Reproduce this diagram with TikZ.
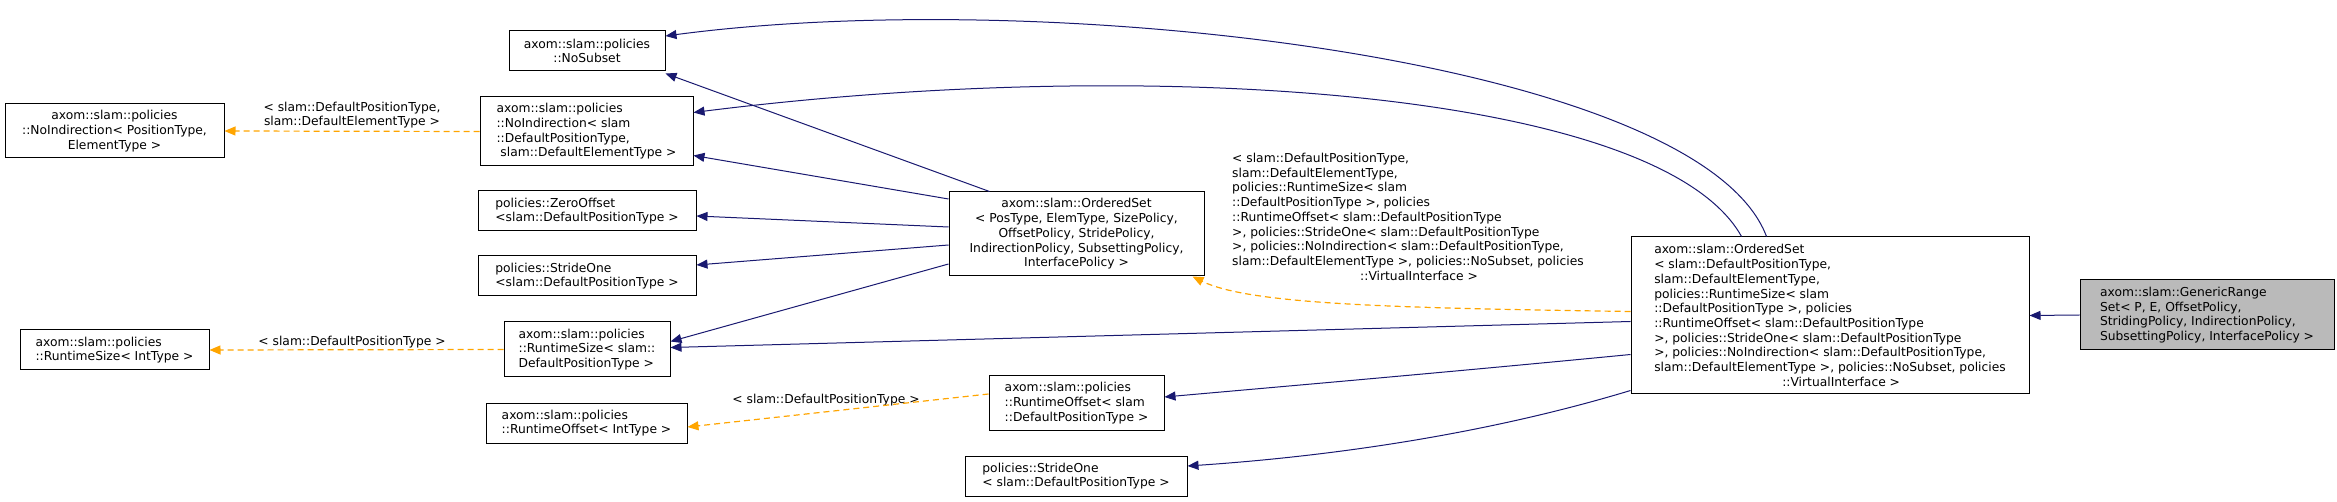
\documentclass[tikz,border=0pt]{standalone}
\usepackage{fontspec}
\setmainfont{DejaVu Sans}
\usetikzlibrary{arrows.meta}
\definecolor{navy}{HTML}{191970}
\definecolor{orng}{HTML}{FFA500}
\begin{document}
\begin{tikzpicture}[x=1pt,y=-1pt,
 box/.style={draw=black,line width=1pt,fill=white,inner sep=2pt,font=\fontsize{12.3}{14.7}\selectfont},
 lbl/.style={inner sep=0pt,font=\fontsize{12.3}{14.7}\selectfont},
 inh/.style={draw=navy,line width=1pt,-{Triangle[length=11pt,width=9pt,fill=navy]}},
 tpl/.style={draw=orng,line width=1.2pt,dash pattern=on 6pt off 4pt,-{Triangle[length=11pt,width=9pt,fill=orng]}}]
\useasboundingbox (0,0) rectangle (2337,502);
\node[box,minimum width=156pt,minimum height=40pt,align=center] (nosub) at (587,51) {axom::slam::policies\\::NoSubset};
\node[box,minimum width=213pt,minimum height=69pt,align=left] (noindS) at (586.5,131.5) {axom::slam::policies\\::NoIndirection< slam\\::DefaultPositionType,\\\ slam::DefaultElementType >};
\node[box,minimum width=219pt,minimum height=54pt,align=center] (noindP) at (114.5,131) {axom::slam::policies\\::NoIndirection< PositionType,\\ElementType >};
\node[box,minimum width=218pt,minimum height=40pt,align=left] (zero) at (587,211) {policies::ZeroOffset\\<slam::DefaultPositionType >};
\node[box,minimum width=218pt,minimum height=40pt,align=left] (strL) at (587,276) {policies::StrideOne\\<slam::DefaultPositionType >};
\node[box,minimum width=166pt,minimum height=55pt,align=left] (rsS) at (587,349.5) {axom::slam::policies\\::RuntimeSize< slam::\\DefaultPositionType >};
\node[box,minimum width=189pt,minimum height=40pt,align=left] (rsI) at (114.5,350) {axom::slam::policies\\::RuntimeSize< IntType >};
\node[box,minimum width=201pt,minimum height=40pt,align=left] (roI) at (586.5,423) {axom::slam::policies\\::RuntimeOffset< IntType >};
\node[box,minimum width=255pt,minimum height=84pt,align=center] (tmpl) at (1076.5,234) {axom::slam::OrderedSet\\< PosType, ElemType, SizePolicy,\\OffsetPolicy, StridePolicy,\\IndirectionPolicy, SubsettingPolicy,\\InterfacePolicy >};
\node[box,minimum width=175pt,minimum height=54pt,align=left] (roS) at (1076.5,403) {axom::slam::policies\\::RuntimeOffset< slam\\::DefaultPositionType >};
\node[box,minimum width=222pt,minimum height=40pt,align=left] (strR) at (1076,476) {policies::StrideOne\\< slam::DefaultPositionType >};
\node[box,minimum width=398pt,minimum height=157pt,align=left] (inst) at (1830,315.5) {axom::slam::OrderedSet\\< slam::DefaultPositionType,\\ slam::DefaultElementType,\\ policies::RuntimeSize< slam\\::DefaultPositionType >, policies\\::RuntimeOffset< slam::DefaultPositionType\\ >, policies::StrideOne< slam::DefaultPositionType\\ >, policies::NoIndirection< slam::DefaultPositionType,\\ slam::DefaultElementType >, policies::NoSubset, policies\\\hspace*{128pt}::VirtualInterface >};
\node[box,fill=black!27,minimum width=254pt,minimum height=70pt,align=left] (gen) at (2207,315) {axom::slam::GenericRange\\Set< P, E, OffsetPolicy,\\ StridingPolicy, IndirectionPolicy,\\ SubsettingPolicy, InterfacePolicy >};
% labels
\node[lbl,align=center] (l1) at (352,115) {< slam::DefaultPositionType,\\slam::DefaultElementType >};
\node[lbl] (l2) at (352,342) {< slam::DefaultPositionType >};
\node[lbl] (l3) at (826,400) {< slam::DefaultPositionType >};
\node[lbl,align=left,anchor=north west] (l4) at (1232,153) {< slam::DefaultPositionType,\\slam::DefaultElementType,\\policies::RuntimeSize< slam\\::DefaultPositionType >, policies\\::RuntimeOffset< slam::DefaultPositionType\\>, policies::StrideOne< slam::DefaultPositionType\\>, policies::NoIndirection< slam::DefaultPositionType,\\slam::DefaultElementType >, policies::NoSubset, policies\\\hspace*{128pt}::VirtualInterface >};
% template edges
\draw[tpl] (noindS.west) -- (noindP.east);
\draw[tpl] (rsS.west) -- (rsI.east);
\draw[tpl] ([yshift=9pt]roS.west) -- ([yshift=-4pt]roI.east);
\draw[tpl] ([yshift=4pt]inst.west) .. controls (1400,308) and (1250,305) .. ([xshift=-12pt]tmpl.south east);
% inheritance
\draw[inh] (gen.west) -- (inst.east);
\draw[inh] ([xshift=136pt]inst.north west) .. controls (1700,60) and (1050,-15) .. ([yshift=15pt]nosub.east);
\draw[inh] ([xshift=111pt]inst.north west) .. controls (1660,90) and (1150,55) .. ([yshift=19pt]noindS.east);
\draw[inh] ([yshift=-6pt]inst.west) -- ([yshift=2pt]rsS.east);
\draw[inh] ([yshift=-39pt]inst.west) .. controls (1450,372) and (1300,385) .. ([yshift=6pt]roS.east);
\draw[inh] ([yshift=-75pt]inst.west) .. controls (1500,430) and (1350,455) .. ([yshift=10pt]strR.east);
\draw[inh] ([xshift=41pt]tmpl.north west) -- ([yshift=-2pt]nosub.south east);
\draw[inh] ([yshift=35pt]tmpl.west) -- ([yshift=-24pt]noindS.east);
\draw[inh] ([yshift=7pt]tmpl.west) -- ([yshift=-5pt]zero.east);
\draw[inh] ([yshift=-11pt]tmpl.west) -- ([yshift=11pt]strL.east);
\draw[inh] ([yshift=-30pt]tmpl.west) -- ([yshift=8pt]rsS.east);
\end{tikzpicture}
\end{document}
